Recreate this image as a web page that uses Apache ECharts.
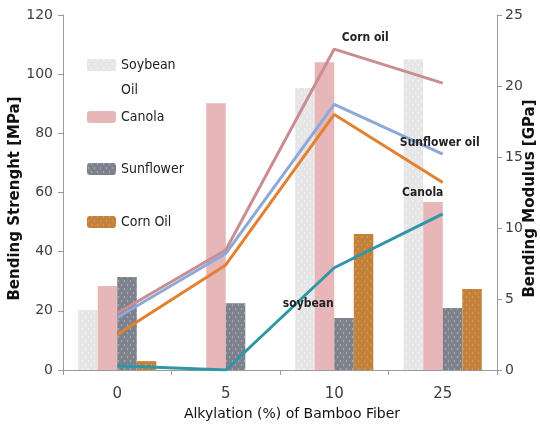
<!DOCTYPE html>
<html>
<head>
<meta charset="utf-8">
<script src="https://cdn.jsdelivr.net/npm/echarts@6/dist/echarts.min.js"></script>
<style>html,body{margin:0;padding:0;background:#fff}#c{width:540px;height:430px}</style>
</head>
<body>
<div id="c"></div>
<script>
const categories = ['0', '5', '10', '25'];
// Bending strength [MPa] (bars, left axis)
const soybeanOil = [20.3, 0, 95.3, 105];
const canola = [28.4, 90.2, 104, 56.8];
const sunflower = [31.4, 22.6, 17.6, 21];
const cornOil = [3, 0, 46, 27.4];
// Bending modulus [GPa] (lines, right axis)
const modCornOil = [4.0, 8.45, 22.6, 20.2];
const modSunflower = [3.7, 8.2, 18.7, 15.2];
const modCanola = [2.5, 7.4, 18.0, 13.2];
const modSoybean = [0.3, 0, 7.2, 11.0];
const leftTicks = {min: 0, max: 120, interval: 20};
const rightTicks = {min: 0, max: 25, interval: 5};
const lineLabels = {
  corn: 'Corn oil', sunflower: 'Sunflower oil', canola: 'Canola', soybean: 'soybean'
};

const chart = echarts.init(document.getElementById('c'), null, {renderer: 'canvas'});
const axisColor = '#9a9a9a';
const tickFont = {color: '#404040', fontSize: 14, fontFamily: 'DejaVu Sans'};
const lblStyle = {color: '#222', fontSize: 12, fontWeight: 'bold', fontFamily: 'DejaVu Sans Condensed'};

function withLabel(arr, idx, label) {
  return arr.map((v, i) => i === idx ? {value: v, label: Object.assign({show: true}, lblStyle, label)} : v);
}

const legendBase = {
  orient: 'vertical', left: 87, padding: 0, itemWidth: 29, itemHeight: 12,
  selectedMode: false,
  textStyle: {color: '#222', fontSize: 14, fontFamily: 'DejaVu Sans Condensed', lineHeight: 25}
};

chart.setOption({
  animation: false,
  backgroundColor: '#fff',
  grid: {left: 63, right: 43, top: 15, bottom: 60, outerBoundsMode: 'none', containLabel: false},
  legend: [
    Object.assign({}, legendBase, {top: 52.5, data: ['Soybean Oil'], formatter: () => 'Soybean\nOil',
      itemHeight: 37, icon: 'path://M0,0L29,0L29,12L0,12Z M0,37L0.01,37L0.01,36.99Z'}),
    Object.assign({}, legendBase, {top: 104.5, data: ['Canola']}),
    Object.assign({}, legendBase, {top: 156.5, data: ['Sunflower']}),
    Object.assign({}, legendBase, {top: 209.5, data: ['Corn Oil']})
  ],
  xAxis: {
    type: 'category', data: categories,
    name: 'Alkylation (%) of Bamboo Fiber', nameLocation: 'middle', nameGap: 33,
    nameTextStyle: {color: '#111', fontSize: 14, fontFamily: 'DejaVu Sans', padding: [0, 0, 0, 24]},
    axisLine: {lineStyle: {color: axisColor}},
    axisTick: {show: true, length: 5, lineStyle: {color: axisColor}},
    axisLabel: Object.assign({margin: 17}, tickFont, {fontSize: 15})
  },
  yAxis: [
    {
      type: 'value', position: 'left', min: leftTicks.min, max: leftTicks.max, interval: leftTicks.interval,
      name: 'Bending Strenght [MPa]', nameLocation: 'middle', nameGap: 40, nameRotate: 90, nameMoveOverlap: false,
      nameTextStyle: {color: '#111', fontSize: 15, fontWeight: 'bold', fontFamily: 'DejaVu Sans', padding: [0, 12, 0, 0]},
      axisLine: {show: true, lineStyle: {color: axisColor}},
      axisTick: {show: true, length: 5, lineStyle: {color: axisColor}},
      axisLabel: Object.assign({margin: 10}, tickFont),
      splitLine: {show: false}
    },
    {
      type: 'value', position: 'right', min: rightTicks.min, max: rightTicks.max, interval: rightTicks.interval,
      name: 'Bending Modulus [GPa]', nameLocation: 'middle', nameGap: 26, nameRotate: 90, nameMoveOverlap: false,
      nameTextStyle: {color: '#111', fontSize: 15, fontWeight: 'bold', fontFamily: 'DejaVu Sans', padding: [0, 12, 0, 0]},
      axisLine: {show: true, lineStyle: {color: axisColor}},
      axisTick: {show: true, length: 5, lineStyle: {color: axisColor}},
      axisLabel: Object.assign({margin: 8}, tickFont),
      splitLine: {show: false}
    }
  ],
  series: [
    {name: 'Soybean Oil', type: 'bar', data: soybeanOil, barGap: '0%', barCategoryGap: '28%',
      itemStyle: {color: '#e6e6e6', decal: {symbol: 'circle', symbolSize: 0.7, color: 'rgba(255,255,255,0.75)', dashArrayX: [[3, 3], [0, 3, 3, 0]], dashArrayY: [2, 2]}}},
    {name: 'Canola', type: 'bar', data: canola,
      itemStyle: {color: '#e7b6b9'}},
    {name: 'Sunflower', type: 'bar', data: sunflower,
      itemStyle: {color: '#7c818c', decal: {symbol: 'circle', symbolSize: 0.8, color: 'rgba(215,220,230,0.65)', dashArrayX: [[3, 3], [0, 3, 3, 0]], dashArrayY: [2, 2]}}},
    {name: 'Corn Oil', type: 'bar', data: cornOil,
      itemStyle: {color: '#c4813c', decal: {symbol: 'circle', symbolSize: 0.7, color: 'rgba(235,190,120,0.7)', dashArrayX: [[3, 3], [0, 3, 3, 0]], dashArrayY: [2, 2]}}},
    {name: 'mod-corn', type: 'line', yAxisIndex: 1, showSymbol: true, symbol: 'circle', symbolSize: 0.01, z: 5,
      lineStyle: {color: '#c98d92', width: 3}, itemStyle: {color: '#c98d92'},
      data: withLabel(modCornOil, 2, {position: 'top', offset: [31, 0], formatter: lineLabels.corn})},
    {name: 'mod-sunflower', type: 'line', yAxisIndex: 1, showSymbol: true, symbol: 'circle', symbolSize: 0.01, z: 5,
      lineStyle: {color: '#8ea9d8', width: 3}, itemStyle: {color: '#8ea9d8'},
      data: withLabel(modSunflower, 3, {position: 'top', offset: [-3, 0], formatter: lineLabels.sunflower})},
    {name: 'mod-canola', type: 'line', yAxisIndex: 1, showSymbol: true, symbol: 'circle', symbolSize: 0.01, z: 5,
      lineStyle: {color: '#e28130', width: 3}, itemStyle: {color: '#e28130'},
      data: withLabel(modCanola, 3, {position: 'bottom', offset: [-20, -1], formatter: lineLabels.canola})},
    {name: 'mod-soybean', type: 'line', yAxisIndex: 1, showSymbol: true, symbol: 'circle', symbolSize: 0.01, z: 5,
      lineStyle: {color: '#2f96a5', width: 3}, itemStyle: {color: '#2f96a5'},
      data: withLabel(modSoybean, 2, {position: 'bottom', offset: [-26, 25], formatter: lineLabels.soybean})}
  ]
});
</script>
</body>
</html>
